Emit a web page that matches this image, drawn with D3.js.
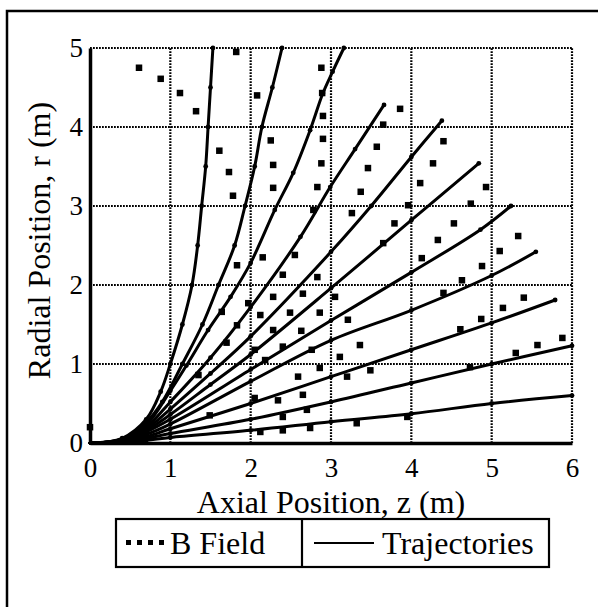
<!DOCTYPE html>
<html>
<head>
<meta charset="utf-8">
<script src="https://cdn.jsdelivr.net/npm/d3@7"></script>
<style>
  html, body { margin: 0; padding: 0; background: #fff; }
  svg { display: block; }
  text { font-family: "Liberation Serif", "Times New Roman", serif; fill: #000; }
</style>
</head>
<body>
<svg id="chart" width="598" height="607"></svg>
<script>
// Axis ticks
const zTicks = [0, 1, 2, 3, 4, 5, 6];
const rTicks = [0, 1, 2, 3, 4, 5];

// Particle trajectories, each a list of [z, r] in metres
const traj1 = [[0,0],[0.4,0.06],[0.7,0.3],[0.88,0.65],[1.0,1.0],[1.15,1.5],[1.27,2.0],[1.34,2.5],[1.39,3.0],[1.44,3.5],[1.47,4.0],[1.5,4.5],[1.53,5.0]];
const traj2 = [[0,0],[0.4,0.05],[0.7,0.26],[0.9,0.52],[1.15,1.0],[1.4,1.5],[1.6,2.0],[1.8,2.5],[1.93,3.0],[2.05,3.5],[2.14,4.0],[2.27,4.5],[2.39,5.0]];
const traj3 = [[0,0],[0.4,0.05],[0.7,0.23],[1.0,0.66],[1.2,0.98],[1.47,1.43],[1.75,1.85],[2.0,2.28],[2.3,2.95],[2.53,3.42],[2.74,3.96],[2.9,4.43],[3.02,4.7],[3.16,5.0]];
const traj4 = [[0,0],[0.4,0.04],[0.7,0.2],[1.0,0.52],[1.5,1.08],[2.0,1.72],[2.62,2.61],[2.99,3.24],[3.3,3.72],[3.66,4.28]];
const traj5 = [[0,0],[0.4,0.04],[0.7,0.18],[1.0,0.43],[1.5,0.88],[2.0,1.35],[3.0,2.42],[3.5,3.0],[4.0,3.62],[4.38,4.08]];
const traj6 = [[0,0],[0.4,0.035],[0.7,0.16],[1.0,0.36],[1.5,0.74],[2.0,1.12],[3.0,1.96],[4.0,2.82],[4.84,3.54]];
const traj7 = [[0,0],[0.4,0.03],[0.7,0.14],[1.0,0.3],[2.0,0.93],[3.0,1.55],[4.0,2.16],[4.86,2.7],[5.24,3.0]];
const traj8 = [[0,0],[0.4,0.025],[0.7,0.11],[1.0,0.24],[2.0,0.78],[3.0,1.3],[4.0,1.68],[5.0,2.12],[5.55,2.42]];
const traj9 = [[0,0],[0.4,0.02],[0.7,0.08],[1.0,0.18],[2.0,0.5],[3.0,0.84],[4.0,1.18],[5.0,1.52],[5.79,1.81]];
const traj10 = [[0,0],[0.4,0.015],[0.7,0.06],[1.0,0.12],[2.0,0.3],[3.0,0.52],[4.0,0.76],[5.0,1.0],[6.0,1.23]];
const traj11 = [[0,0],[0.4,0.01],[0.7,0.035],[1.0,0.07],[2.0,0.16],[3.0,0.27],[4.0,0.37],[5.0,0.5],[6.0,0.6]];
const trajectories = [traj1, traj2, traj3, traj4, traj5, traj6, traj7, traj8, traj9, traj10, traj11];

// Magnetic field line samples, [z, r] in metres
const bField = [
  [0,0.2],
  [0.61,4.75],[0.88,4.61],[1.12,4.43],[1.32,4.2],
  [1.82,4.95],[1.61,3.7],[1.73,3.43],[1.78,3.13],
  [2.08,4.4],[2.25,3.83],[2.28,3.52],[2.28,3.23],
  [2.88,4.75],[2.89,4.43],[2.9,4.14],[2.9,3.85],[2.88,3.54],[2.83,3.24],[2.78,2.95],
  [3.86,4.23],[3.65,4.03],[3.57,3.75],[3.46,3.48],[3.37,3.18],[3.26,2.91],
  [3.96,3.01],[3.79,2.78],[3.65,2.53],
  [4.4,3.82],[4.27,3.54],[4.11,3.29],[4.74,3.03],[4.53,2.78],[4.93,3.24],[5.33,2.62],
  [4.33,2.57],[4.13,2.34],[4.88,2.24],[4.63,2.06],[4.4,1.9],[5.1,2.43],
  [4.87,1.57],[4.61,1.44],[5.4,1.84],[5.14,1.71],
  [5.88,1.33],[5.57,1.24],[5.3,1.14],[4.73,0.96],
  [1.83,2.25],[1.97,1.77],[1.64,1.66],[1.83,1.49],[1.7,1.27],[1.35,0.86],[1.49,0.35],
  [2.15,2.35],[2.55,2.38],[2.4,2.13],[2.83,2.1],[2.28,1.85],[2.65,1.89],
  [2.12,1.62],[2.49,1.65],[2.86,1.65],[2.28,1.43],[2.63,1.42],
  [2.05,1.18],[2.4,1.22],[2.76,1.18],[2.18,1.05],[2.59,0.84],[2.86,0.95],
  [2.05,0.57],[2.34,0.54],[2.65,0.61],[2.4,0.33],[2.7,0.42],
  [2.12,0.14],[2.4,0.16],[2.74,0.19],
  [3.05,1.85],[3.21,1.56],[3.11,1.09],[3.2,0.84],[3.36,1.24],[3.49,0.92],
  [3.32,0.25],[3.95,0.33]
];

const svg = d3.select("#chart");
const serif = "'Liberation Serif', 'Times New Roman', serif";
const x = d3.scaleLinear().domain([0, 6]).range([90, 572]);
const y = d3.scaleLinear().domain([0, 5]).range([443, 48]);

// outer frame
svg.append("rect")
  .attr("x", 7).attr("y", 11).attr("width", 620).attr("height", 620)
  .attr("fill", "none").attr("stroke", "#000").attr("stroke-width", 2.5);

// dotted grid, including the top and right edges
const grid = svg.append("g").attr("stroke", "#000").attr("stroke-width", 2.2)
  .attr("stroke-dasharray", "1.8,1.2").attr("fill", "none");
grid.selectAll("line.v").data(zTicks.filter(d => d > 0)).join("line")
  .attr("x1", d => x(d)).attr("x2", d => x(d))
  .attr("y1", y(0)).attr("y2", y(5));
grid.selectAll("line.h").data(rTicks.filter(d => d > 0)).join("line")
  .attr("x1", x(0)).attr("x2", x(6))
  .attr("y1", d => y(d)).attr("y2", d => y(d));

// solid axes
const xAxis = d3.axisBottom(x).tickValues(zTicks).tickSize(0).tickPadding(15).tickFormat(d3.format("d"));
const yAxis = d3.axisLeft(y).tickValues(rTicks).tickSize(0).tickPadding(7).tickFormat(d3.format("d"));
const gx = svg.append("g").attr("transform", `translate(0,${y(0)})`).call(xAxis);
const gy = svg.append("g").attr("transform", `translate(${x(0)},0)`).call(yAxis);
[gx, gy].forEach(g => {
  g.select(".domain").attr("stroke", "#000").attr("stroke-width", 3.5);
  g.selectAll("text").style("font-family", serif).style("font-size", "27px").attr("fill", "#000");
});

// B field markers
svg.append("g").selectAll("rect").data(bField).join("rect")
  .attr("x", d => x(d[0]) - 3.25).attr("y", d => y(d[1]) - 3.25)
  .attr("width", 6.5).attr("height", 6.5).attr("fill", "#000");

// trajectories
const line = d3.line().x(d => x(d[0])).y(d => y(d[1])).curve(d3.curveCatmullRom.alpha(0.5));
const tg = svg.append("g");
tg.selectAll("path").data(trajectories).join("path")
  .attr("d", line).attr("fill", "none").attr("stroke", "#000")
  .attr("stroke-width", 3).attr("stroke-linejoin", "round").attr("stroke-linecap", "round");
tg.selectAll("g.pts").data(trajectories).join("g")
  .selectAll("circle").data(d => d.slice(1)).join("circle")
  .attr("cx", d => x(d[0])).attr("cy", d => y(d[1])).attr("r", 2.4).attr("fill", "#000");

// axis titles
svg.append("text").attr("x", (x(0) + x(6)) / 2).attr("y", 513)
  .attr("text-anchor", "middle").style("font-family", serif).style("font-size", "32px")
  .text("Axial Position, z (m)");
svg.append("text").attr("transform", `translate(50,${(y(0) + y(5)) / 2 - 5}) rotate(-90)`)
  .attr("text-anchor", "middle").style("font-family", serif).style("font-size", "32px")
  .text("Radial Position, r (m)");

// legend
const lg = svg.append("g");
lg.append("rect").attr("x", 116).attr("y", 519).attr("width", 433).attr("height", 48)
  .attr("fill", "none").attr("stroke", "#000").attr("stroke-width", 2.2);
lg.append("line").attr("x1", 302).attr("x2", 302).attr("y1", 519).attr("y2", 567)
  .attr("stroke", "#000").attr("stroke-width", 2.2);
lg.selectAll("rect.sw").data([0, 1, 2, 3]).join("rect").attr("class", "sw")
  .attr("x", d => 126 + d * 11).attr("y", 540).attr("width", 5).attr("height", 5).attr("fill", "#000");
lg.append("text").attr("x", 170).attr("y", 554)
  .style("font-family", serif).style("font-size", "32px").text("B Field");
lg.append("line").attr("x1", 314).attr("x2", 374).attr("y1", 543).attr("y2", 543)
  .attr("stroke", "#000").attr("stroke-width", 2.2);
lg.append("text").attr("x", 382).attr("y", 554)
  .style("font-family", serif).style("font-size", "32px").text("Trajectories");
</script>
</body>
</html>
